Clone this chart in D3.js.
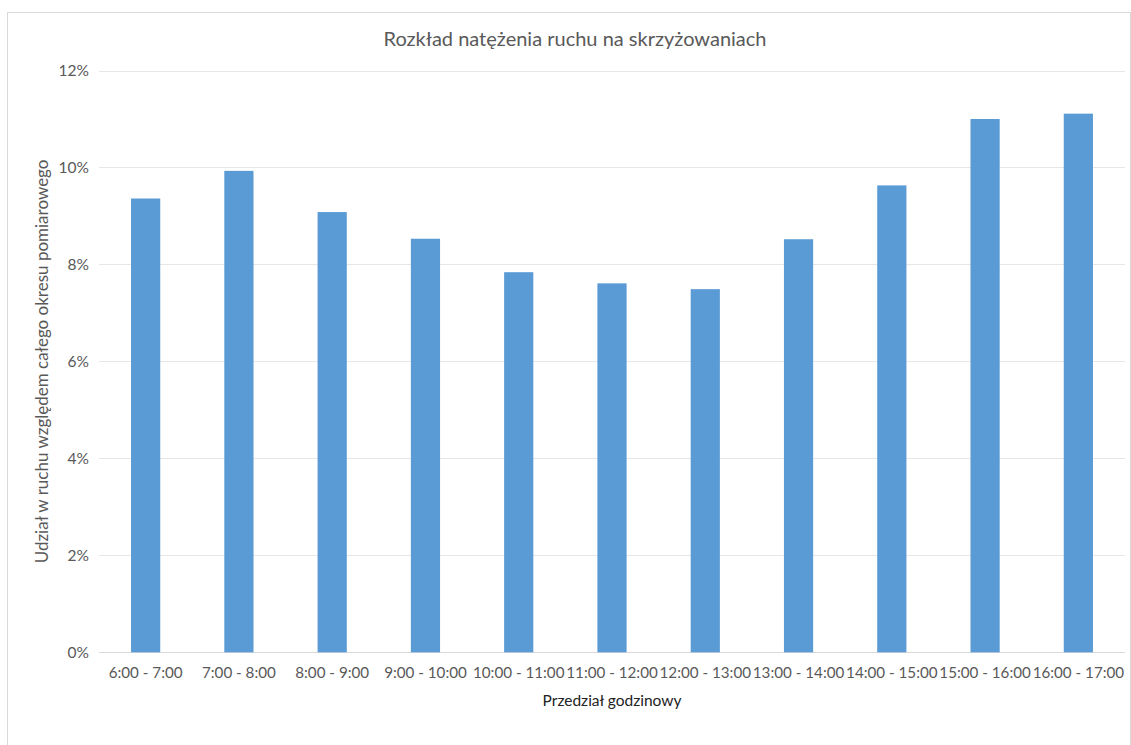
<!DOCTYPE html>
<html>
<head>
<meta charset="utf-8">
<script src="https://cdn.jsdelivr.net/npm/d3@7"></script>
<style>
  html, body { margin: 0; padding: 0; background: #fff; }
  svg { display: block; font-family: Lato, "Open Sans", sans-serif; }
</style>
</head>
<body>
<svg id="chart" width="1131" height="745"></svg>
<script>
// Hourly intervals and their share of total measured traffic (%)
const categories = ["6:00 - 7:00", "7:00 - 8:00", "8:00 - 9:00", "9:00 - 10:00", "10:00 - 11:00",
  "11:00 - 12:00", "12:00 - 13:00", "13:00 - 14:00", "14:00 - 15:00", "15:00 - 16:00", "16:00 - 17:00"];
const shares = [9.36, 9.93, 9.08, 8.53, 7.84, 7.61, 7.49, 8.52, 9.63, 11.0, 11.11];
const yTicks = [0, 2, 4, 6, 8, 10, 12];

const titleText = "Rozkład natężenia ruchu na skrzyżowaniach";
const xTitle = "Przedział godzinowy";
const yTitle = "Udział w ruchu względem całego okresu pomiarowego";

const svg = d3.select("#chart");
const W = 1131, H = 745;
const plot = { left: 99, right: 1125, top: 70.5, bottom: 652.3 };

// chart frame
svg.append("rect")
  .attr("x", 7.5).attr("y", 12.5)
  .attr("width", W - 8).attr("height", H - 12)
  .attr("fill", "#fff").attr("stroke", "#d9d9d9").attr("stroke-width", 1);

const x = d3.scaleBand().domain(categories).range([plot.left, plot.right]).paddingInner(0.687).paddingOuter(0.3435);
const y = d3.scaleLinear().domain([0, 12]).range([plot.bottom, plot.top]);

// horizontal gridlines
svg.append("g")
  .selectAll("line")
  .data(yTicks)
  .join("line")
  .attr("x1", plot.left).attr("x2", plot.right)
  .attr("y1", d => Math.round(y(d)) + 0.5).attr("y2", d => Math.round(y(d)) + 0.5)
  .attr("stroke", d => d === 0 ? "#d9d9d9" : "#e6e6e6").attr("stroke-width", 1);

// y axis labels
const yAxis = d3.axisLeft(y).tickValues(yTicks).tickFormat(d => d + "%").tickSize(0).tickPadding(0);
svg.append("g")
  .attr("transform", `translate(${plot.left - 10},0)`)
  .call(yAxis)
  .call(g => g.select(".domain").remove())
  .call(g => g.selectAll("text").attr("fill", "#595959").style("font-size", "15.5px").style("font-family", "Lato, sans-serif"));

// bars
svg.append("g")
  .selectAll("rect")
  .data(shares)
  .join("rect")
  .attr("x", (d, i) => x(categories[i]))
  .attr("width", x.bandwidth())
  .attr("y", d => y(d))
  .attr("height", d => y(0) - y(d))
  .attr("fill", "#5b9bd5");

// x axis labels
const xAxis = d3.axisBottom(x).tickSize(0).tickPadding(0);
svg.append("g")
  .attr("transform", `translate(0,${plot.bottom + 15})`)
  .call(xAxis)
  .call(g => g.select(".domain").remove())
  .call(g => g.selectAll("text").attr("fill", "#595959").attr("dy", "0.71em").style("font-size", "15.2px").style("font-family", "Lato, sans-serif"));

// titles
svg.append("text")
  .attr("x", 575).attr("y", 46)
  .attr("text-anchor", "middle")
  .attr("fill", "#595959")
  .style("font-size", "20px")
  .text(titleText);

svg.append("text")
  .attr("x", (plot.left + plot.right) / 2).attr("y", 706)
  .attr("text-anchor", "middle")
  .attr("fill", "#222")
  .style("font-size", "15.5px")
  .text(xTitle);

svg.append("text")
  .attr("transform", `translate(48,${(plot.top + plot.bottom) / 2}) rotate(-90)`)
  .attr("text-anchor", "middle")
  .attr("fill", "#595959")
  .style("font-size", "17px")
  .text(yTitle);
</script>
</body>
</html>
